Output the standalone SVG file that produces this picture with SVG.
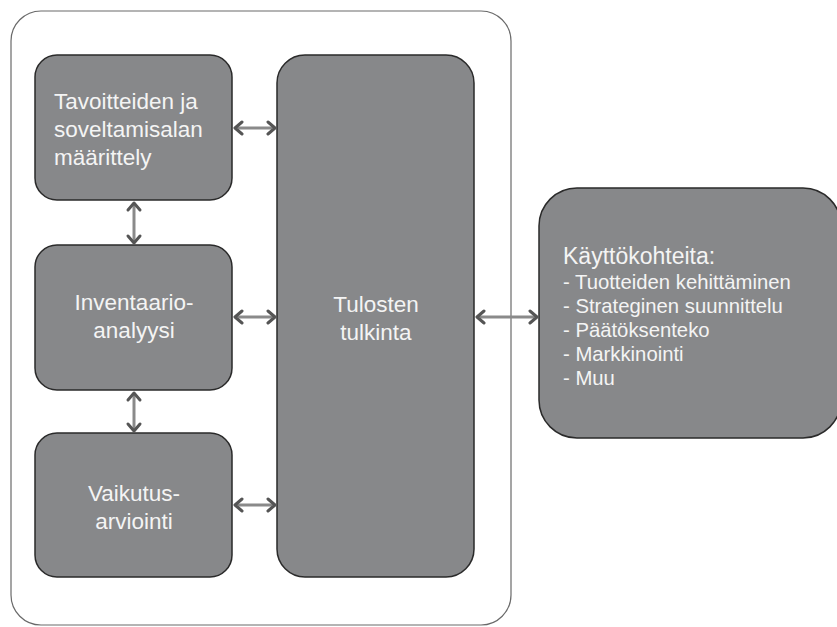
<svg xmlns="http://www.w3.org/2000/svg" width="837" height="627" viewBox="0 0 837 627">
<defs>
<style>
.box{fill:#87888a;stroke:#2a2a2a;stroke-width:1.5}
.t{fill:#f4f4f4;font-family:"Liberation Sans",Arial,sans-serif;font-size:22.5px}
.c{text-anchor:middle}
.it{font-size:20.3px}
.ln{stroke:#8a8a8a;stroke-width:3;fill:none}
.hd{stroke:#555;stroke-width:3;fill:none;stroke-linecap:round;stroke-linejoin:round}
</style>
</defs>
<rect x="0" y="0" width="837" height="627" fill="#ffffff"/>
<rect id="container" x="11" y="11" width="500" height="614" rx="30" ry="30" fill="#ffffff" stroke="#6a6a6a" stroke-width="1.2"/>
<g id="n1"><rect class="box" x="35" y="55" width="197" height="145" rx="22"/>
<text class="t" x="54" y="109">Tavoitteiden ja</text>
<text class="t" x="54" y="137">soveltamisalan</text>
<text class="t" x="54" y="165">määrittely</text></g>
<g id="n2"><rect class="box" x="35" y="245" width="197" height="145" rx="22"/>
<text class="t c" x="134" y="310">Inventaario-</text>
<text class="t c" x="134" y="338">analyysi</text></g>
<g id="n3"><rect class="box" x="35" y="433" width="197" height="144" rx="22"/>
<text class="t c" x="134" y="501">Vaikutus-</text>
<text class="t c" x="134" y="529">arviointi</text></g>
<g id="n4"><rect class="box" x="277" y="55" width="197" height="522" rx="28"/>
<text class="t c" x="376" y="312">Tulosten</text>
<text class="t c" x="376" y="340">tulkinta</text></g>
<g id="n5"><rect class="box" x="539" y="188" width="302" height="250" rx="38"/>
<text class="t" x="563" y="264" style="font-size:23px">Käyttökohteita:</text>
<text class="t it" x="563" y="289">- Tuotteiden kehittäminen</text>
<text class="t it" x="563" y="313">- Strateginen suunnittelu</text>
<text class="t it" x="563" y="337">- Päätöksenteko</text>
<text class="t it" x="563" y="361">- Markkinointi</text>
<text class="t it" x="563" y="385">- Muu</text></g>
<g id="connectors">
<line class="ln" x1="236" y1="128" x2="273" y2="128"/>
<path class="hd" d="M242,122 L235,128 L242,134 M268,122 L275,128 L268,134"/>
<line class="ln" x1="236" y1="317" x2="273" y2="317"/>
<path class="hd" d="M242,311 L235,317 L242,323 M268,311 L275,317 L268,323"/>
<line class="ln" x1="236" y1="505" x2="273" y2="505"/>
<path class="hd" d="M242,499 L235,505 L242,511 M268,499 L275,505 L268,511"/>
<line class="ln" x1="478" y1="317" x2="535" y2="317"/>
<path class="hd" d="M484,311 L477,317 L484,323 M530,311 L537,317 L530,323"/>
<line class="ln" x1="134" y1="204" x2="134" y2="241"/>
<path class="hd" d="M128,210 L134,203 L140,210 M128,236 L134,243 L140,236"/>
<line class="ln" x1="134" y1="394" x2="134" y2="429"/>
<path class="hd" d="M128,400 L134,393 L140,400 M128,424 L134,431 L140,424"/>
</g>
</svg>
